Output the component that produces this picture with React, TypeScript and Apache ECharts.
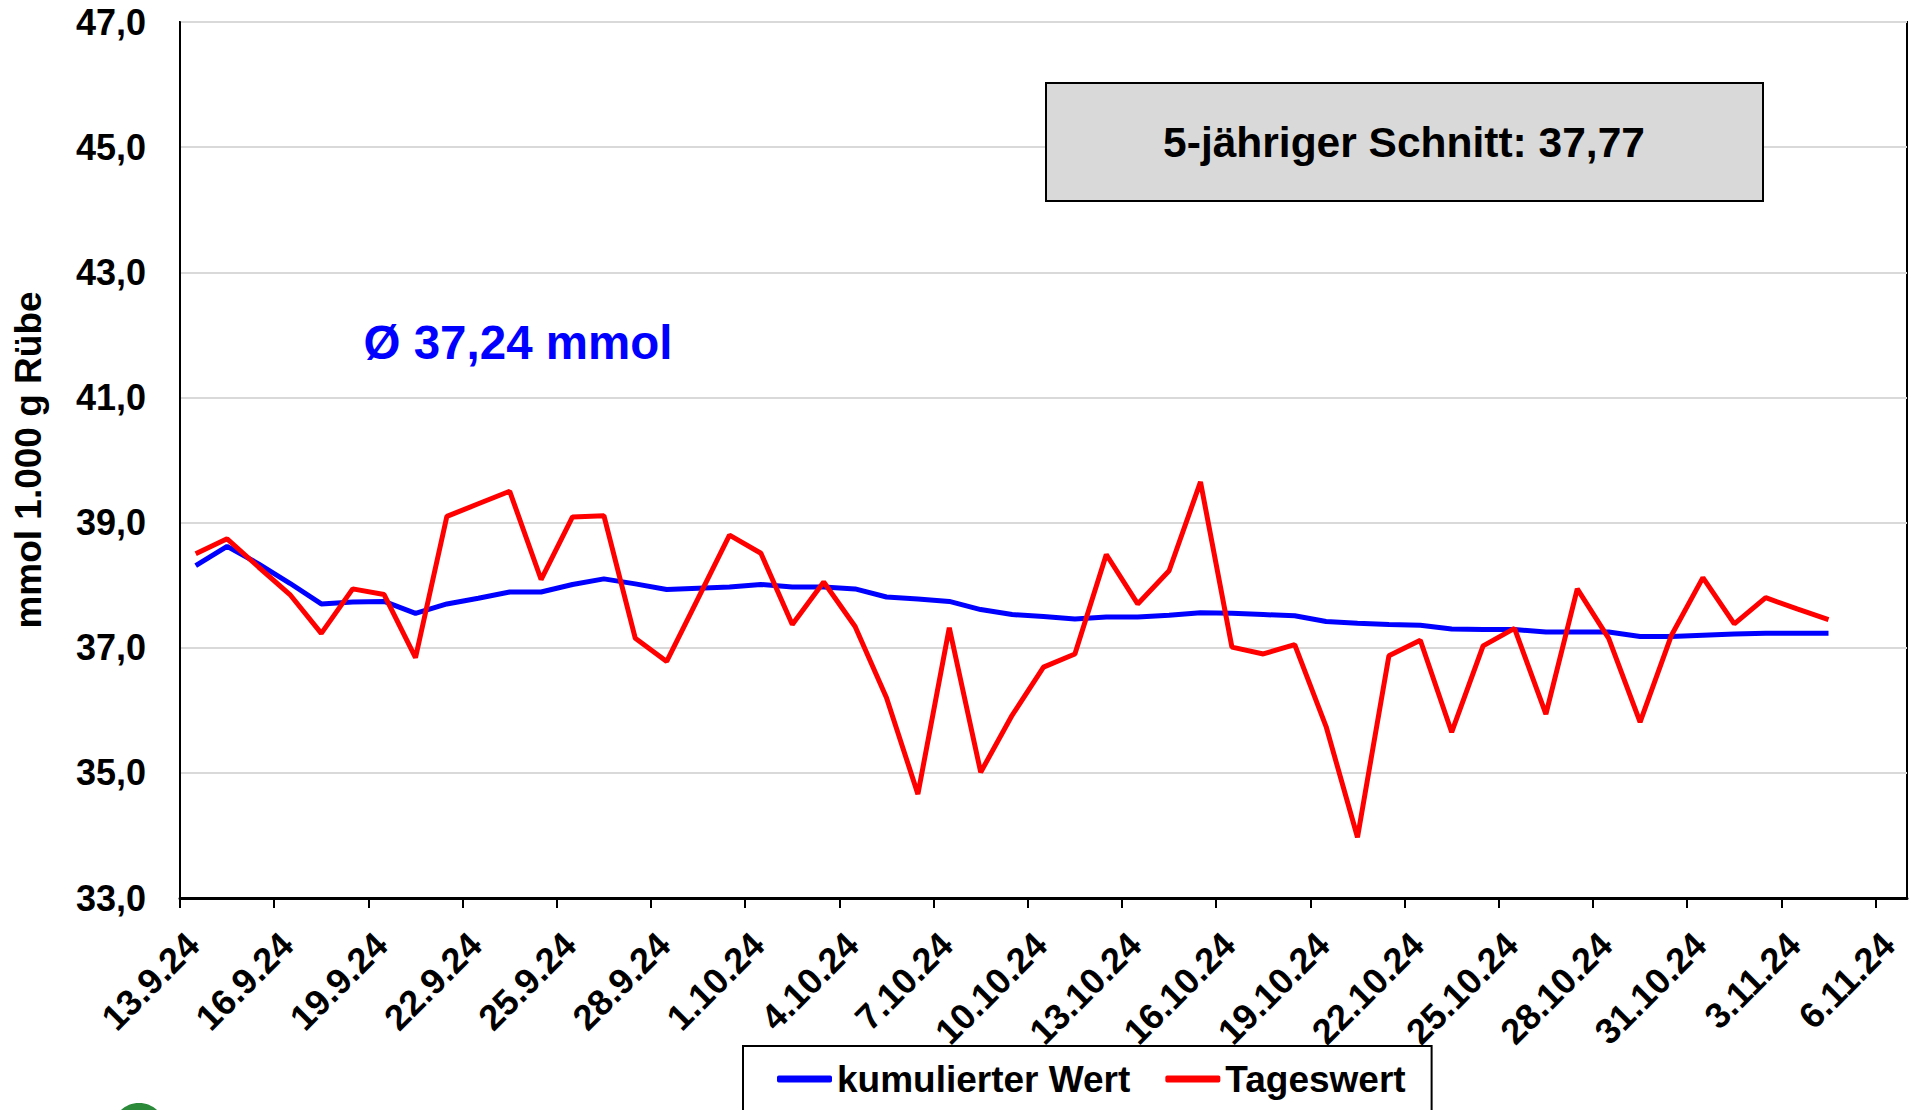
import React, { useEffect, useRef } from "react";
import * as echarts from "echarts";

// Tick labels on the x axis (every 3rd day, at day boundaries)
const tickLabels = [
  "13.9.24", "16.9.24", "19.9.24", "22.9.24", "25.9.24", "28.9.24", "1.10.24",
  "4.10.24", "7.10.24", "10.10.24", "13.10.24", "16.10.24", "19.10.24",
  "22.10.24", "25.10.24", "28.10.24", "31.10.24", "3.11.24", "6.11.24",
];

// Daily values (13.9.24 ... 4.11.24)
const tageswert = [
  38.5, 38.74, 38.29, 37.85, 37.23, 37.94, 37.85, 36.84, 39.1, 39.3,
  39.5, 38.09, 39.09, 39.11, 37.15, 36.78, 37.79, 38.8, 38.51, 37.37,
  38.05, 37.34, 36.2, 34.66, 37.32, 35.01, 35.92, 36.69, 36.9, 38.49,
  37.7, 38.23, 39.65, 37.01, 36.9, 37.05, 35.74, 33.97, 36.87, 37.12,
  35.65, 37.03, 37.31, 35.94, 37.94, 37.15, 35.81, 37.2, 38.12, 37.38,
  37.8, 37.62, 37.45,
];

const kumuliert = [
  38.31, 38.62, 38.34, 38.03, 37.7, 37.73, 37.74, 37.55, 37.7, 37.79,
  37.89, 37.89, 38.01, 38.1, 38.02, 37.93, 37.95, 37.97, 38.01, 37.97,
  37.97, 37.94, 37.81, 37.78, 37.74, 37.61, 37.53, 37.5, 37.46, 37.49,
  37.49, 37.52, 37.56, 37.55, 37.53, 37.51, 37.42, 37.39, 37.37, 37.36,
  37.3, 37.29, 37.29, 37.25, 37.25, 37.25, 37.18, 37.18, 37.2, 37.22,
  37.23, 37.23, 37.23,
];

const seriesNames = ["kumulierter Wert", "Tageswert"];
const averageText = "Ø 37,24 mmol";
const fiveYearText = "5-jähriger Schnitt: 37,77";
const yAxisTitle = "mmol 1.000 g Rübe";

const FONT = '"Liberation Sans", Arial, Helvetica, sans-serif';
const DAYS_ON_AXIS = 55;

export default function App() {
  const ref = useRef<HTMLDivElement>(null);

  useEffect(() => {
    if (!ref.current) return;
    const chart = echarts.init(ref.current, undefined, { renderer: "svg" });
    const toPairs = (arr: number[]) => arr.map((v, i) => [i + 0.5, v]);

    chart.setOption({
      animation: false,
      backgroundColor: "#ffffff",
      grid: {
        left: 180,
        right: 2,
        top: 22,
        bottom: 212,
        show: true,
        borderColor: "#000",
        borderWidth: 2,
        backgroundColor: "transparent",
      },
      xAxis: {
        type: "value",
        min: 0,
        max: DAYS_ON_AXIS,
        interval: 3,
        axisLine: { show: true, lineStyle: { color: "#000", width: 3 } },
        axisTick: { show: true, length: 10, lineStyle: { color: "#000", width: 2 } },
        splitLine: { show: false },
        axisLabel: {
          rotate: 45,
          margin: 28,
          verticalAlign: "top",
          color: "#000",
          fontFamily: FONT,
          fontWeight: "bold",
          fontSize: 36,
          showMaxLabel: false,
          formatter: (v: number) => {
            const k = Math.round(v / 3);
            return v % 3 === 0 && k < tickLabels.length ? tickLabels[k] : "";
          },
        },
      },
      yAxis: {
        type: "value",
        min: 33,
        max: 47,
        interval: 2,
        name: yAxisTitle,
        nameLocation: "middle",
        nameRotate: 90,
        nameGap: 133,
        nameTextStyle: {
          color: "#000",
          fontFamily: FONT,
          fontWeight: "bold",
          fontSize: 37,
        },
        axisLine: { show: true, lineStyle: { color: "#000", width: 2 } },
        axisTick: { show: false },
        splitLine: { show: true, lineStyle: { color: "#d9d9d9", width: 2 } },
        axisLabel: {
          margin: 34,
          color: "#000",
          fontFamily: FONT,
          fontWeight: "bold",
          fontSize: 36,
          formatter: (v: number) => v.toFixed(1).replace(".", ","),
        },
      },
      legend: {
        left: 743,
        top: 1046,
        orient: "horizontal",
        data: seriesNames,
        backgroundColor: "#fff",
        borderColor: "#000",
        borderWidth: 2,
        borderRadius: 0,
        padding: [13, 26, 40, 34],
        itemGap: 35,
        itemWidth: 55,
        itemHeight: 7,
        icon: "roundRect",
        textStyle: {
          color: "#000",
          fontFamily: FONT,
          fontWeight: "bold",
          fontSize: 37,
          lineHeight: 40,
        },
      },
      graphic: [
        {
          type: "rect",
          shape: { x: 1046, y: 83, width: 717, height: 118 },
          style: { fill: "#d9d9d9", stroke: "#000", lineWidth: 2 },
          z: 10,
        },
        {
          type: "text",
          x: 1404,
          y: 142,
          style: {
            text: fiveYearText,
            font: `bold 42.5px ${FONT}`,
            fill: "#000",
            align: "center",
            verticalAlign: "middle",
          },
          z: 11,
        },
        {
          type: "text",
          x: 518,
          y: 342,
          style: {
            text: averageText,
            font: `bold 47.5px ${FONT}`,
            fill: "#0000ff",
            align: "center",
            verticalAlign: "middle",
          },
          z: 11,
        },
        {
          type: "ellipse",
          shape: { cx: 139, cy: 1128, rx: 26, ry: 25 },
          style: { fill: "#2a8a3a" },
          z: 11,
        },
      ],
      series: [
        {
          name: seriesNames[0],
          type: "line",
          data: toPairs(kumuliert),
          showSymbol: false,
          symbol: "none",
          color: "#0000ff",
          lineStyle: { color: "#0000ff", width: 5 },
          z: 3,
        },
        {
          name: seriesNames[1],
          type: "line",
          data: toPairs(tageswert),
          showSymbol: false,
          symbol: "none",
          color: "#ff0000",
          lineStyle: { color: "#ff0000", width: 5 },
          z: 4,
        },
      ],
    });

    return () => chart.dispose();
  }, []);

  return (
    <div
      ref={ref}
      style={{
        position: "fixed",
        left: 0,
        top: 0,
        width: 1909,
        height: 1110,
        background: "#fff",
      }}
    />
  );
}
